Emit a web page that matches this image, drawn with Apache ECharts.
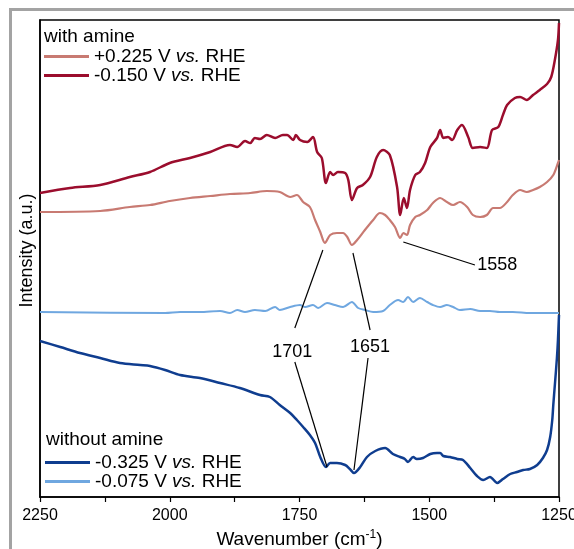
<!DOCTYPE html>
<html>
<head>
<meta charset="utf-8">
<script src="https://cdn.jsdelivr.net/npm/echarts@6/dist/echarts.min.js"></script>
<style>
  html, body { margin: 0; padding: 0; background: #fff; }
  #chart { width: 574px; height: 549px; }
</style>
</head>
<body>
<div id="chart"></div>
<script>
// Wavenumber (cm-1) and offset intensity (a.u.)
const wnNeg150 = [2250, 2192, 2134, 2077, 2038, 2000, 1961, 1922, 1884, 1870, 1855, 1845, 1836, 1826, 1813, 1797, 1782, 1774, 1762, 1757, 1749, 1735, 1724, 1716, 1707, 1699, 1691, 1685, 1676, 1662, 1656, 1649, 1639, 1628, 1614, 1601, 1589, 1576, 1562, 1556, 1549, 1543, 1537, 1527, 1518, 1508, 1498, 1485, 1479, 1473, 1464, 1456, 1446, 1437, 1425, 1416, 1402, 1389, 1379, 1367, 1358, 1350, 1335, 1325, 1312, 1300, 1287, 1273, 1265, 1258, 1252, 1250]
const intNeg150 = [304, 309, 312, 320, 325, 334, 339, 345, 352, 350, 356, 354, 359, 358, 362, 359, 362, 362, 357, 362, 357, 355, 360, 345, 339, 314, 325, 322, 325, 324, 317, 297, 309, 312, 320, 340, 347, 342, 310, 282, 299, 289, 307, 322, 325, 334, 350, 359, 367, 359, 360, 357, 367, 372, 360, 349, 350, 349, 367, 370, 382, 392, 399, 400, 397, 402, 407, 413, 420, 437, 457, 474]

const wnPos225 = [2250, 2134, 2077, 2038, 2000, 1961, 1922, 1884, 1845, 1813, 1788, 1768, 1755, 1743, 1730, 1720, 1710, 1701, 1691, 1678, 1666, 1658, 1649, 1639, 1624, 1608, 1595, 1585, 1576, 1566, 1556, 1550, 1543, 1537, 1527, 1518, 1504, 1493, 1479, 1466, 1454, 1441, 1427, 1416, 1402, 1389, 1377, 1364, 1350, 1339, 1325, 1312, 1300, 1287, 1273, 1261, 1252, 1250]
const intPos225 = [285, 286, 290, 292, 296, 299, 301, 303, 304, 306, 305, 300, 302, 295, 290, 277, 265, 254, 262, 264, 264, 260, 252, 257, 267, 277, 284, 282, 277, 270, 259, 264, 262, 272, 280, 282, 287, 294, 299, 295, 292, 295, 290, 282, 280, 282, 289, 289, 295, 302, 307, 305, 307, 310, 315, 322, 334, 337]

const wnNeg075 = [2250, 2009, 1980, 1942, 1903, 1884, 1870, 1855, 1836, 1816, 1797, 1788, 1768, 1749, 1739, 1724, 1714, 1697, 1682, 1666, 1649, 1637, 1624, 1608, 1589, 1576, 1560, 1550, 1541, 1531, 1518, 1504, 1493, 1479, 1466, 1454, 1441, 1421, 1402, 1383, 1364, 1339, 1306, 1250]
const intNeg075 = [185, 184, 185, 185, 186, 184, 187, 185, 187, 186, 190, 187, 190, 192, 190, 192, 189, 194, 192, 190, 195, 189, 187, 185, 186, 192, 197, 195, 200, 195, 199, 195, 192, 190, 192, 190, 187, 188, 186, 186, 185, 185, 184, 184]

const wnNeg325 = [2250, 2211, 2173, 2134, 2096, 2057, 2038, 2009, 1980, 1942, 1903, 1865, 1826, 1807, 1788, 1768, 1755, 1743, 1730, 1720, 1710, 1699, 1691, 1678, 1662, 1653, 1645, 1633, 1620, 1604, 1585, 1570, 1556, 1547, 1541, 1531, 1524, 1512, 1498, 1485, 1479, 1473, 1460, 1446, 1435, 1421, 1408, 1396, 1383, 1369, 1358, 1344, 1331, 1319, 1306, 1292, 1281, 1273, 1267, 1263, 1261, 1258, 1254, 1252, 1250]
const intNeg325 = [156, 150, 144, 139, 134, 132, 131, 127, 122, 119, 114, 109, 102, 100, 92, 84, 77, 70, 62, 54, 40, 30, 34, 34, 32, 28, 24, 30, 40, 46, 49, 43, 40, 38, 35, 40, 38, 39, 43, 44, 44, 41, 40, 38, 37, 29, 21, 17, 20, 14, 18, 23, 25, 27, 28, 32, 39, 47, 60, 77, 92, 112, 139, 157, 182]

// peak labels and their leader lines, in data coordinates
const peakLabels = ['1701', '1651', '1558']
const peakLabelPos = [[1764, 145], [1614, 150], [1369, 232]]
const leaderLines = [
  [[1759, 169], [1705, 247]],
  [[1759, 135], [1697, 30]],
  [[1614, 167], [1647, 244]],
  [[1618, 139], [1645, 27]],
  [[1550, 255], [1412, 232]]
]

const xTicks = { min: 1250, max: 2250, step: 250 }

const FONT = '"Liberation Sans", Arial, sans-serif'

function zip (xs, ys) {
  return xs.map((x, i) => [x, ys[i]])
}

function spectrum (name, color, xs, ys, width) {
  return {
    type: 'line',
    name,
    data: zip(xs, ys),
    showSymbol: false,
    symbol: 'none',
    smooth: 0.3,
    lineStyle: { color, width },
    itemStyle: { color },
    silent: true,
    z: 3
  }
}

const chart = echarts.init(document.getElementById('chart'), null, { renderer: 'canvas' })

const legendText = {
  fontFamily: FONT,
  fontSize: 19,
  color: '#000',
  rich: { i: { fontFamily: FONT, fontSize: 19, fontStyle: 'italic', color: '#000' } }
}

const option = {
  animation: false,
  backgroundColor: '#fff',
  textStyle: { fontFamily: FONT },
  grid: {
    left: 40, right: 15, top: 20, bottom: 52,
    outerBoundsMode: 'none',
    containLabel: false,
    show: true, borderColor: '#000', borderWidth: 1.5, backgroundColor: 'transparent'
  },
  title: [
    { text: 'with amine', left: 44, top: 27, padding: 0, textStyle: { fontFamily: FONT, fontSize: 19, fontWeight: 'normal', color: '#000', lineHeight: 19 } },
    { text: 'without amine', left: 46, top: 430, padding: 0, textStyle: { fontFamily: FONT, fontSize: 19, fontWeight: 'normal', color: '#000', lineHeight: 19 } }
  ],
  legend: [
    {
      data: ['+0.225 V vs. RHE', '-0.150 V vs. RHE'],
      orient: 'vertical', left: 44, top: 47, padding: 0,
      itemGap: 0, itemWidth: 45, itemHeight: 3, itemTextGap: 8,
      icon: 'rect', selectedMode: false,
      formatter: n => n.replace('vs.', '{i|vs.}'),
      textStyle: Object.assign({ lineHeight: 18 }, legendText)
    },
    {
      data: ['-0.325 V vs. RHE', '-0.075 V vs. RHE'],
      orient: 'vertical', left: 45, top: 453, padding: 0,
      itemGap: 0, itemWidth: 45, itemHeight: 3, itemTextGap: 5,
      icon: 'rect', selectedMode: false,
      formatter: n => n.replace('vs.', '{i|vs.}'),
      textStyle: Object.assign({ lineHeight: 19 }, legendText)
    }
  ],
  xAxis: {
    type: 'value',
    inverse: true,
    min: xTicks.min,
    max: xTicks.max,
    interval: xTicks.step,
    name: 'Wavenumber (cm{sup|-1})',
    nameLocation: 'middle',
    nameGap: 22,
    nameTextStyle: {
      fontFamily: FONT, fontSize: 19, color: '#000',
      rich: { sup: { fontFamily: FONT, fontSize: 12, color: '#000', padding: [0, 0, 9, 0] } }
    },
    axisLine: { onZero: false, lineStyle: { color: '#000', width: 1.5 } },
    axisTick: { show: true, inside: false, length: 5, lineStyle: { color: '#000', width: 1.2 } },
    minorTick: { show: true, splitNumber: 2, length: 5, lineStyle: { color: '#000', width: 1.2 } },
    axisLabel: {
      fontFamily: FONT, fontSize: 16, color: '#000', margin: 11,
      showMinLabel: true, showMaxLabel: true, hideOverlap: false,
      formatter: v => String(v)
    },
    splitLine: { show: false },
    minorSplitLine: { show: false }
  },
  yAxis: {
    type: 'value',
    min: 0,
    max: 477,
    name: 'Intensity (a.u.)',
    nameLocation: 'middle',
    nameGap: 4,
    nameTextStyle: { fontFamily: FONT, fontSize: 18, color: '#000', padding: [0, 0, 0, 16] },
    axisLine: { show: true, lineStyle: { color: '#000', width: 1.5 } },
    axisTick: { show: false },
    axisLabel: { show: false },
    splitLine: { show: false }
  },
  series: [
    spectrum('+0.225 V vs. RHE', '#c87a72', wnPos225, intPos225, 2.2),
    spectrum('-0.150 V vs. RHE', '#9b0d2d', wnNeg150, intNeg150, 2.5),
    spectrum('-0.325 V vs. RHE', '#0f3d8f', wnNeg325, intNeg325, 2.5),
    spectrum('-0.075 V vs. RHE', '#6fa7e0', wnNeg075, intNeg075, 2),
    {
      type: 'line',
      name: 'leaders',
      data: [],
      silent: true,
      markLine: {
        silent: true,
        symbol: ['none', 'none'],
        label: { show: false },
        lineStyle: { color: '#000', width: 1.2, type: 'solid' },
        data: leaderLines.map(seg => [{ coord: seg[0] }, { coord: seg[1] }])
      }
    },
    {
      type: 'scatter',
      name: 'peaks',
      silent: true,
      symbol: 'circle',
      symbolSize: 1,
      itemStyle: { color: 'rgba(0,0,0,0)' },
      data: peakLabelPos.map((p, i) => [p[0], p[1], peakLabels[i]]),
      label: {
        show: true,
        position: 'inside',
        formatter: p => p.value[2],
        fontFamily: FONT,
        fontSize: 18,
        color: '#000',
        opacity: 1,
        textBorderWidth: 0
      },
      z: 5
    }
  ],
  graphic: [
    { type: 'line', silent: true, shape: { x1: 10.5, y1: 8, x2: 10.5, y2: 549 }, style: { stroke: '#a3a3a3', lineWidth: 3 } },
    { type: 'line', silent: true, shape: { x1: 9, y1: 9.5, x2: 574, y2: 9.5 }, style: { stroke: '#a3a3a3', lineWidth: 3 } }
  ]
}

chart.setOption(option)
</script>
</body>
</html>
